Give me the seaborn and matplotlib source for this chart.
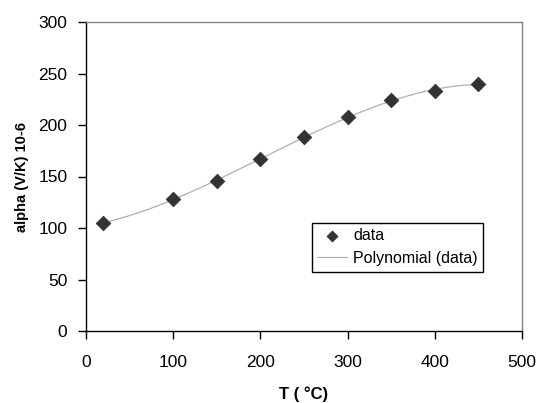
import numpy as np
import pandas as pd
import matplotlib
matplotlib.use("Agg")
import matplotlib.pyplot as plt
import seaborn as sns

T_values = [20, 100, 150, 200, 250, 300, 350, 400, 450]
alpha_values = [105, 128, 146, 167, 188, 208, 224, 233, 240]
x_ticks = [0, 100, 200, 300, 400, 500]
y_ticks = [0, 50, 100, 150, 200, 250, 300]

sns.set_style("ticks")
plt.rcParams['font.family'] = ['Liberation Sans', 'DejaVu Sans']
plt.rcParams['text.color'] = 'black'
plt.rcParams['axes.labelcolor'] = 'black'
plt.rcParams['xtick.color'] = 'black'
plt.rcParams['ytick.color'] = 'black'

df = pd.DataFrame({"T": T_values, "alpha": alpha_values})
coef = np.polyfit(df["T"], df["alpha"], 3)
xs = np.linspace(min(T_values), max(T_values), 200)
fit = pd.DataFrame({"T": xs, "alpha": np.polyval(coef, xs)})

fig = plt.figure(figsize=(5.4, 4.03), dpi=100)
ax = fig.add_axes([86/540, 72/403, 436/540, 309/403])

sns.lineplot(data=fit, x="T", y="alpha", ax=ax, color="#b0b0b0", linewidth=0.9,
             label="Polynomial (data)", zorder=2)
sns.scatterplot(data=df, x="T", y="alpha", ax=ax, marker="D", s=55, color="#333333",
                edgecolor="#333333", label="data", zorder=3)

ax.set_xlim(0, 500)
ax.set_ylim(0, 300)
ax.set_xticks(x_ticks)
ax.set_yticks(y_ticks)
ax.tick_params(axis="both", direction="out", length=6, width=1, labelsize=12.5,
               labelcolor="black", color="black", pad=7.5)
ax.tick_params(axis="x", pad=11)
ax.set_xlabel("T ( \u00b0C)", fontsize=12, fontweight="bold", labelpad=12)
ax.set_ylabel("alpha (V/K) 10-6", fontsize=10.5, fontweight="bold", labelpad=6.5)

for s in ["left", "bottom"]:
    ax.spines[s].set_color("black")
    ax.spines[s].set_linewidth(1)
for s in ["right", "top"]:
    ax.spines[s].set_visible(True)
    ax.spines[s].set_color("#808080")
    ax.spines[s].set_linewidth(1)

handles, labels = ax.get_legend_handles_labels()
order = [labels.index("data"), labels.index("Polynomial (data)")]
leg = ax.legend([handles[i] for i in order], [labels[i] for i in order],
                loc="upper left", bbox_to_anchor=((311.5-86)/436, (331-222.5)/309),
                frameon=True, fancybox=False, edgecolor="black", framealpha=1,
                fontsize=11.5, borderpad=0.35, handlelength=1.9, handletextpad=0.35,
                labelspacing=0.5, markerscale=0.75, borderaxespad=0)
leg.get_frame().set_linewidth(1)

fig.savefig("out.png", dpi=100)
